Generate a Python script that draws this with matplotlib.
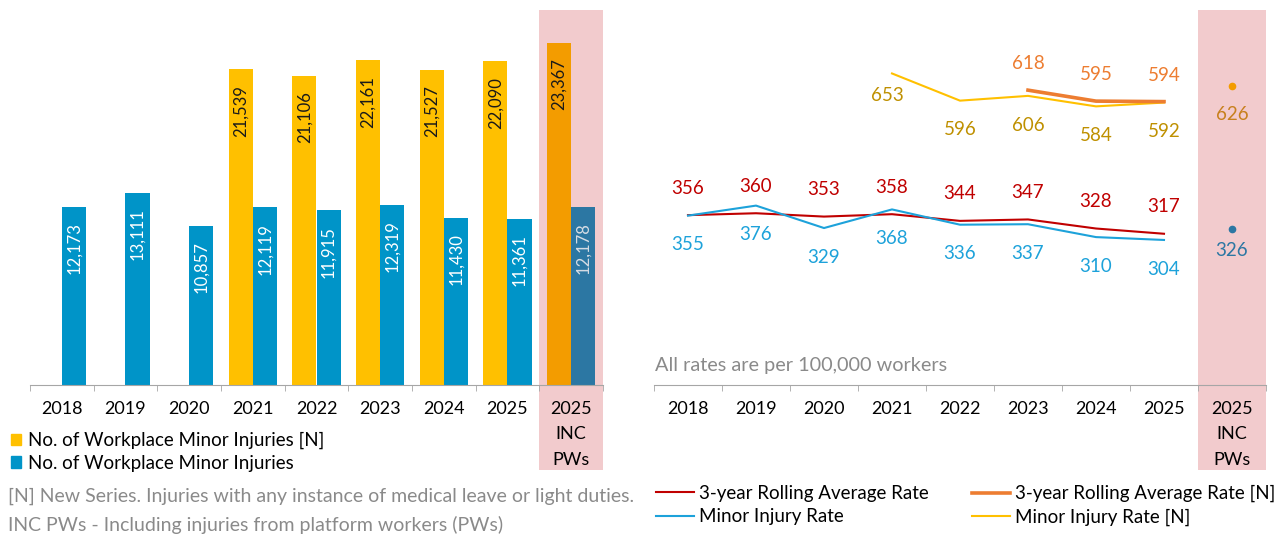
import matplotlib.pyplot as plt
from matplotlib.patches import Patch
from matplotlib.lines import Line2D

plt.rcParams['font.family'] = ['Lato', 'DejaVu Sans']

# data
years = ['2018', '2019', '2020', '2021', '2022', '2023', '2024', '2025', '2025\nINC\nPWs']
injuries_new = [None, None, None, 21539, 21106, 22161, 21527, 22090, 23367]
injuries_old = [12173, 13111, 10857, 12119, 11915, 12319, 11430, 11361, 12178]

rolling_avg = [356, 360, 353, 358, 344, 347, 328, 317]          # 2018-2025
minor_rate = [355, 376, 329, 368, 336, 337, 310, 304]           # 2018-2025
minor_rate_new = [653, 596, 606, 584, 592]                      # 2021-2025
rolling_avg_new = [618, 595, 594]                               # 2023-2025
inc_rate_new = 626
inc_rate = 326

# colours
c_yellow = '#FFC000'
c_orange = '#F39C00'
c_blue = '#0094C8'
c_blue_dk = '#2C77A3'
c_pink = '#F2CBCD'
c_axis = '#A6A6A6'
c_grey = '#8A8A8A'
c_red = '#C00000'
c_lblue = '#1DA2DA'
c_oline = '#ED7D31'
fs = 13

fig = plt.figure(figsize=(12.84, 5.37), dpi=100)
W, H = 1284, 537
ax1 = fig.add_axes([30 / W, 1 - 385 / H, 573 / W, 375 / H])
ax2 = fig.add_axes([654 / W, 1 - 385 / H, 612 / W, 375 / H])


def style_axis(ax):
    for s in ['left', 'top', 'right']:
        ax.spines[s].set_visible(False)
    ax.spines['bottom'].set_color(c_axis)
    ax.set_yticks([])
    ax.set_xlim(-0.5, 8.5)
    ax.set_xticks(range(len(years)))
    ax.set_xticklabels(years, fontsize=fs, linespacing=1.72)
    ax.set_xticks([i - 0.5 for i in range(len(years) + 1)], minor=True)
    ax.tick_params(axis='x', which='major', length=0, pad=11.5)
    ax.tick_params(axis='x', which='minor', length=4.5, color=c_axis, direction='out')
    ax.axvspan(7.5, 8.5, ymin=-0.227, ymax=1, color=c_pink, clip_on=False, zorder=0, lw=0)


# left: bar chart
style_axis(ax1)
ax1.set_ylim(0, 25600)
w = 0.377
for i, v in enumerate(injuries_new):
    if v is None:
        continue
    col = c_orange if i == 8 else c_yellow
    ax1.bar(i - w / 2, v, width=w, color=col, zorder=2)
    ax1.annotate(f'{v:,}', xy=(i - w / 2, v), xytext=(0, -11), textcoords='offset points',
                 rotation=90, ha='center', va='top', fontsize=12, color='#1A1A1A', zorder=3)
for i, v in enumerate(injuries_old):
    col = c_blue_dk if i == 8 else c_blue
    tcol = '#D5DCE4' if i == 8 else 'white'
    ax1.bar(i + w / 2, v, width=w, color=col, zorder=2)
    ax1.annotate(f'{v:,}', xy=(i + w / 2, v), xytext=(0, -11), textcoords='offset points',
                 rotation=90, ha='center', va='top', fontsize=12, color=tcol, zorder=3)

# right: rates
style_axis(ax2)
ax2.set_ylim(0, 786)
x_all = list(range(8))
x_new = list(range(3, 8))
x_avg_new = list(range(5, 8))
ax2.plot(x_all, rolling_avg, color=c_red, lw=1.5, zorder=3)
ax2.plot(x_all, minor_rate, color=c_lblue, lw=1.5, zorder=3)
ax2.plot(x_new, minor_rate_new, color=c_yellow, lw=1.5, zorder=3)
ax2.plot(x_avg_new, rolling_avg_new, color=c_oline, lw=2.6, zorder=3)
ax2.plot([8], [inc_rate_new], 'o', color=c_orange, ms=4.5, zorder=3)
ax2.plot([8], [inc_rate], 'o', color=c_blue_dk, ms=4.5, zorder=3)


def lab(ax, x, y, dy, col, dx=0):
    ax.annotate(str(y), xy=(x, y), xytext=(dx, dy), textcoords='offset points',
                ha='center', va='center', fontsize=13.5, color=col)


for x, v in zip(x_all, rolling_avg):
    lab(ax2, x, v, 19.5, c_red)
for x, v in zip(x_all, minor_rate):
    lab(ax2, x, v, -21, c_lblue)
for x, v in zip(x_new, minor_rate_new):
    if x == 3:
        lab(ax2, x, v, -16, '#BF9000', dx=-3)
    else:
        lab(ax2, x, v, -21, '#BF9000')
for x, v in zip(x_avg_new, rolling_avg_new):
    lab(ax2, x, v, 19, c_oline)
lab(ax2, 8, inc_rate_new, -20, '#C8801E')
lab(ax2, 8, inc_rate, -15, c_blue_dk)

fig.text(655 / W, 1 - 366 / H, 'All rates are per 100,000 workers', fontsize=14.3,
         color=c_grey, va='center')

# legends
leg1 = fig.legend(handles=[Patch(color=c_yellow), Patch(color=c_blue)],
                  labels=['No. of Workplace Minor Injuries [N]', 'No. of Workplace Minor Injuries'],
                  loc='upper left', bbox_to_anchor=(11 / W, 1 - 432 / H), frameon=False,
                  fontsize=13.5, handlelength=0.55, handleheight=0.55, handletextpad=0.35,
                  labelspacing=0.28, borderpad=0, borderaxespad=0)
leg2 = fig.legend(handles=[Line2D([], [], color=c_red, lw=1.5), Line2D([], [], color=c_lblue, lw=1.5)],
                  labels=['3-year Rolling Average Rate', 'Minor Injury Rate'],
                  loc='upper left', bbox_to_anchor=(656 / W, 1 - 485 / H), frameon=False,
                  fontsize=13.5, handlelength=2.05, handletextpad=0.25,
                  labelspacing=0.33, borderpad=0, borderaxespad=0)
leg3 = fig.legend(handles=[Line2D([], [], color=c_oline, lw=2.6), Line2D([], [], color=c_yellow, lw=1.5)],
                  labels=['3-year Rolling Average Rate [N]', 'Minor Injury Rate [N]'],
                  loc='upper left', bbox_to_anchor=(972 / W, 1 - 485 / H), frameon=False,
                  fontsize=13.5, handlelength=2.05, handletextpad=0.25,
                  labelspacing=0.33, borderpad=0, borderaxespad=0)

# footnotes
fig.text(8 / W, 1 - 496 / H, '[N] New Series. Injuries with any instance of medical leave or light duties.',
         fontsize=14, color=c_grey, va='center')
fig.text(8 / W, 1 - 525 / H, 'INC PWs - Including injuries from platform workers (PWs)',
         fontsize=14, color=c_grey, va='center')

fig.savefig('out.png', dpi=100)
